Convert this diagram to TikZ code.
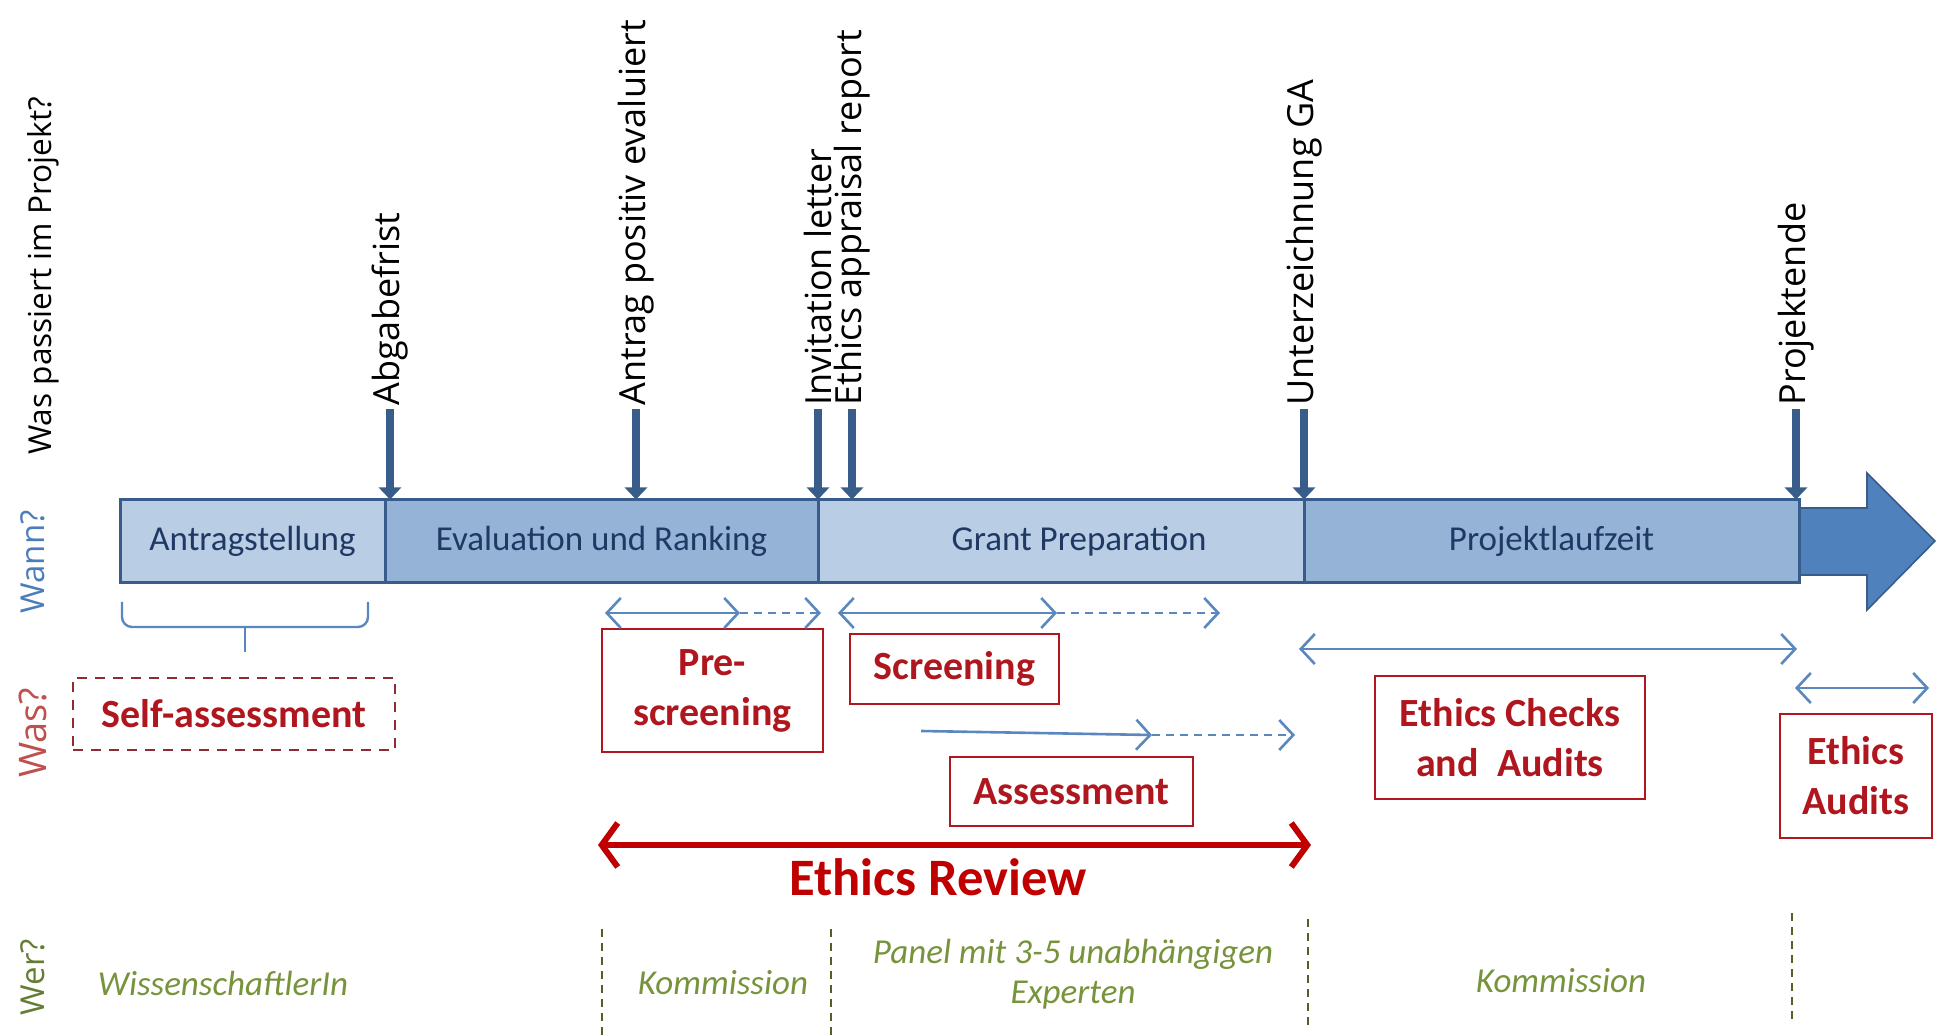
\documentclass[tikz,border=0pt]{standalone}
\usepackage{fontspec}
\setmainfont{Carlito}
\newfontfamily\slidefont{Open Sans}
\usetikzlibrary{arrows.meta,positioning}

\definecolor{barlight}{HTML}{B9CDE5}
\definecolor{bardark}{HTML}{95B3D7}
\definecolor{barline}{HTML}{385D8A}
\definecolor{barhead}{HTML}{4F81BD}
\definecolor{bartext}{HTML}{1F3864}
\definecolor{spanblue}{HTML}{5A87BE}
\definecolor{revred}{HTML}{C00000}
\definecolor{boxred}{HTML}{B0161E}
\definecolor{selfred}{HTML}{8E2A34}
\definecolor{whogreen}{HTML}{77933C}
\definecolor{sepgreen}{HTML}{4F6228}
\definecolor{rowblue}{HTML}{4A7EBB}
\definecolor{rowred}{HTML}{C0504D}

\begin{document}
\begin{tikzpicture}[x=0.5pt,y=-0.5pt,
    phase/.style={rectangle,draw=barline,line width=1.5pt,outer sep=0pt,inner sep=0pt,minimum height=41.5pt,text=bartext,font=\fontsize{17.5}{21}\selectfont},
    milestone/.style={line width=4pt,draw=barline,-{Triangle[length=6pt,width=11pt]}},
    ms label/.style={rotate=90,anchor=west,inner sep=1.5pt,font=\slidefont\fontsize{18}{20}\selectfont},
    row label/.style={rotate=90,font=\slidefont\fontsize{16.5}{20}\selectfont},
    task/.style={rectangle,draw=boxred,line width=1.4pt,text=boxred,align=center,inner sep=0pt,font=\bfseries\fontsize{20}{25}\selectfont},
    span/.style={draw=spanblue,line width=1.3pt,{Straight Barb[length=7pt,width=15pt]}-{Straight Barb[length=7pt,width=15pt]}},
    span end/.style={draw=spanblue,line width=1.3pt,-{Straight Barb[length=7pt,width=15pt]}},
    span cont/.style={span end,dash pattern=on 4pt off 3pt},
    who/.style={text=whogreen,align=center,font=\itshape\fontsize{17.5}{20}\selectfont},
    sep/.style={draw=sepgreen,line width=0.8pt,dash pattern=on 4pt off 3pt}]
    \useasboundingbox (0,0) rectangle (1943,1036);

    % big arrow behind the time bar
    \fill[barhead,draw=barline,line width=0.8pt] (1790,508) -- (1867,508) -- (1867,473) -- (1935,541)
        -- (1867,610) -- (1867,575) -- (1790,575) -- cycle;

    % phases
    \node [phase, fill=barlight, minimum width=132.5pt](1) at (252.5,541){Antragstellung};
    \node [phase, fill=bardark, minimum width=216.5pt](2) [right=0pt of 1]{Evaluation und Ranking};
    \node [phase, fill=barlight, minimum width=243pt](3) [right=0pt of 2]{\hspace{18pt}Grant Preparation};
    \node [phase, fill=bardark, minimum width=247.5pt](4) [right=0pt of 3]{Projektlaufzeit};

    % milestones
    \node [ms label](m1) at (390,409){Abgabefrist};
    \node [ms label](m2) at (636,409){Antrag positiv evaluiert};
    \node [ms label](m3) at (818,409){Invitation letter};
    \node [ms label](m4) at (852,409){Ethics appraisal report};
    \node [ms label](m5) at (1304,409){Unterzeichnung GA};
    \node [ms label](m6) at (1796,409){Projektende};
    \draw[milestone] (m1) -- (m1 |- 2.north);
    \draw[milestone] (m2) -- (m2 |- 2.north);
    \draw[milestone] (m3) -- (m3 |- 3.north);
    \draw[milestone] (m4) -- (m4 |- 3.north);
    \draw[milestone] (m5) -- (m5 |- 4.north);
    \draw[milestone] (m6) -- (m6 |- 4.north);

    % left column
    \node [row label, font=\slidefont\fontsize{15.8}{19}\selectfont](q0) at (43,276){Was passiert im Projekt?};
    \node [row label, text=rowblue](q1) at (33,562){Wann?};
    \node [row label, text=rowred, font=\slidefont\fontsize{19}{22}\selectfont](q2) at (33,733){Was?};
    \node [row label, text=whogreen!85!black](q3) at (33,977){Wer?};

    % brace below Antragstellung
    \draw[draw=spanblue,line width=1.2pt,rounded corners=5pt] (122,602) -- (122,627) -- (245,627) -- (368,627) -- (368,602);
    \draw[draw=spanblue,line width=1.2pt] (245,627) -- (245,652);

    % ethics tasks
    \node [task, draw=selfred, dashed, dash pattern=on 5pt off 4pt, minimum width=161pt, minimum height=36pt](5) at (234,714){Self-assessment};
    \node [task, minimum width=110.5pt, minimum height=61.5pt](6) at (712.5,690.5){Pre-\\screening};
    \node [task, minimum width=104.5pt, minimum height=35pt](7) at (954.5,669){Screening};
    \node [task, minimum width=121.5pt, minimum height=34.5pt](8) at (1071.5,791.5){Assessment};
    \node [task, minimum width=135pt, minimum height=61.5pt](9) at (1510,737.5){Ethics Checks\\and\ \ Audits};
    \node [task, minimum width=76pt, minimum height=62pt](10) at (1856,776){Ethics\\Audits};

    % durations
    \coordinate (a1) at (605,613);
    \coordinate (a2) at (740,613);
    \coordinate (a3) at (821,613);
    \coordinate (b1) at (838,613);
    \coordinate (b2) at (1057,613);
    \coordinate (b3) at (1220,613);
    \coordinate (c1) at (921,731);
    \coordinate (c2) at (1152,735);
    \coordinate (c3) at (1295,735);
    \coordinate (d1) at (1299,649);
    \coordinate (d2) at (1797,649);
    \coordinate (e1) at (1795,688);
    \coordinate (e2) at (1929,688);
    \draw[span] (a1) -- (a2);
    \draw[span cont] (a2) -- (a3);
    \draw[span] (b1) -- (b2);
    \draw[span cont] (b2) -- (b3);
    \draw[span end] (c1) -- (c2);
    \draw[span cont] (c2) -- (c3);
    \draw[span] (d1) -- (d2);
    \draw[span] (e1) -- (e2);

    % ethics review
    \coordinate (r1) at (598,845);
    \coordinate (r2) at (1311,845);
    \draw[draw=revred,line width=3pt,{Straight Barb[length=8pt,width=22pt]}-{Straight Barb[length=8pt,width=22pt]}] (r1) -- (r2);
    \node [text=revred, font=\bfseries\fontsize{26.3}{30}\selectfont](11) at (938,877){Ethics Review};

    % who is in charge
    \node [who](12) at (223,983){WissenschaftlerIn};
    \node [who](13) at (723,983){Kommission};
    \node [who](14) at (1073,974){Panel mit 3-5 unabhängigen\\Experten};
    \node [who](15) at (1561,981){Kommission};
    \draw[sep] (602,929) -- (602,1036);
    \draw[sep] (831,929) -- (831,1036);
    \draw[sep] (1308,919) -- (1308,1025);
    \draw[sep] (1792,913) -- (1792,1019);
\end{tikzpicture}
\end{document}
